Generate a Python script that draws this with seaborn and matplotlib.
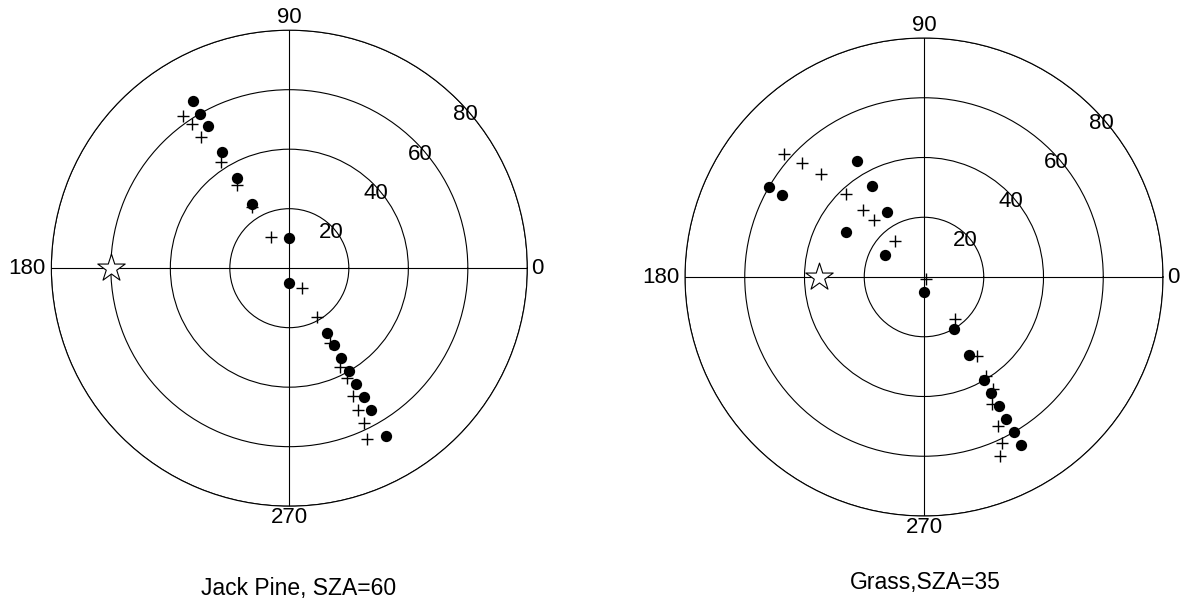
import numpy as np
import pandas as pd
import matplotlib
matplotlib.use("Agg")
import matplotlib.pyplot as plt
import seaborn as sns

# ---------------- data (azimuth in degrees, view zenith) ----------------
# Jack Pine, SZA=60
jp_dot_az = [120, 120, 120, 120, 120, 120, 90, 270, 300, 300, 300, 300, 300, 300, 300, 300]
jp_dot_vz = [65, 60, 55, 45, 35, 25, 10, 5, 25, 30, 35, 40, 45, 50, 55, 65]
jp_plus_az = [125, 124, 124, 122.6, 122, 121.5, 120, 301.5, 299.5, 298.5, 297.3, 297.5, 296.3, 296, 295.8, 294.5]
jp_plus_vz = [62.5, 58.5, 53, 42.5, 33, 24, 12, 8, 18.7, 28.5, 37.3, 41.7, 48, 53, 57.7, 63]
jp_sun_az = 180
jp_sza = 60

# Grass, SZA=35
gr_dot_az = [150, 150, 120, 120, 120, 150, 150, 270, 300, 300, 300, 300, 300, 300, 300, 300]
gr_dot_vz = [60, 55, 45, 35, 25, 30, 15, 5, 20, 30, 40, 45, 50, 55, 60, 65]
gr_plus_az = [138.6, 137, 135, 133.3, 132.5, 131, 129, 320, 306, 304, 302.3, 301.7, 298.2, 296.5, 295, 293]
gr_plus_vz = [62.5, 56, 48.6, 38.3, 30.3, 25.3, 15.3, 1, 17.4, 32, 39.1, 44, 48.3, 55.6, 61.4, 65]
gr_sun_az = 180
gr_sza = 35

ring_values = [20, 40, 60, 80]
ring_labels = ["20", "40", "60", "80"]
theta_ticks = [0, 90, 180, 270]
theta_labels = ["0", "90", "180", "270"]
titles = ["Jack Pine, SZA=60", "Grass,SZA=35"]

# ---------------- style ----------------
sns.set_style("white")
plt.rcParams['font.family'] = ['Liberation Sans', 'DejaVu Sans']
plt.rcParams['text.color'] = 'black'

fig = plt.figure(figsize=(11.8, 6.1), dpi=100)
fig.patch.set_facecolor("white")

rects = [[0.0435, 0.1702, 0.4034, 0.7803], [0.5805, 0.1541, 0.4051, 0.7836]]
panels = [
    (jp_dot_az, jp_dot_vz, jp_plus_az, jp_plus_vz, jp_sun_az, jp_sza),
    (gr_dot_az, gr_dot_vz, gr_plus_az, gr_plus_vz, gr_sun_az, gr_sza),
]
title_pos = [(299 / 1180, 1 - 589 / 610), (925 / 1180, 1 - 582 / 610)]

for rect, (daz, dvz, paz, pvz, saz, sza), title, tpos in zip(rects, panels, titles, title_pos):
    ax = fig.add_axes(rect, projection='polar')
    ax.set_facecolor("white")

    dots = pd.DataFrame({"theta": np.deg2rad(daz), "r": dvz})
    plus = pd.DataFrame({"theta": np.deg2rad(paz), "r": pvz})

    sns.scatterplot(data=dots, x="theta", y="r", ax=ax, marker="o", s=66,
                    color="black", edgecolor="black", linewidth=0, zorder=3,
                    clip_on=False)
    sns.scatterplot(data=plus, x="theta", y="r", ax=ax, marker="+", s=85,
                    color="black", linewidth=1.0, zorder=3, clip_on=False)
    ax.scatter([np.deg2rad(saz)], [sza], marker="*", s=430, facecolors="white",
               edgecolors="black", linewidths=0.8, zorder=4, clip_on=False)

    ax.set_ylim(0, 80)
    ax.set_yticks(ring_values)
    ax.set_yticklabels([])
    ax.set_xticks(np.deg2rad(theta_ticks))
    ax.set_xticklabels([])
    ax.grid(True, color="black", linewidth=0.8, linestyle="-")
    ax.spines["polar"].set_color("black")
    ax.spines["polar"].set_linewidth(0.8)
    ax.set_xlabel("")
    ax.set_ylabel("")
    ax.tick_params(length=0)

    # theta labels outside the outer ring
    fs = 16
    ax.text(np.deg2rad(0), 81.3, theta_labels[0], ha="left", va="center", fontsize=fs, color="black")
    ax.text(np.deg2rad(90), 80.8, theta_labels[1], ha="center", va="bottom", fontsize=fs, color="black")
    ax.text(np.deg2rad(180), 82.0, theta_labels[2], ha="right", va="center", fontsize=fs, color="black")
    ax.text(np.deg2rad(270), 80.2, theta_labels[3], ha="center", va="top", fontsize=fs, color="black")

    # radial labels along ~41 degrees
    for rv, lab in zip(ring_values, ring_labels):
        ax.text(np.deg2rad(41), rv - 1.5, lab, ha="center", va="center", fontsize=fs, color="black")

    fig.text(tpos[0], tpos[1], title, ha="center", va="center", fontsize=16.5, color="black")

fig.savefig("out.png", dpi=100, facecolor="white")
